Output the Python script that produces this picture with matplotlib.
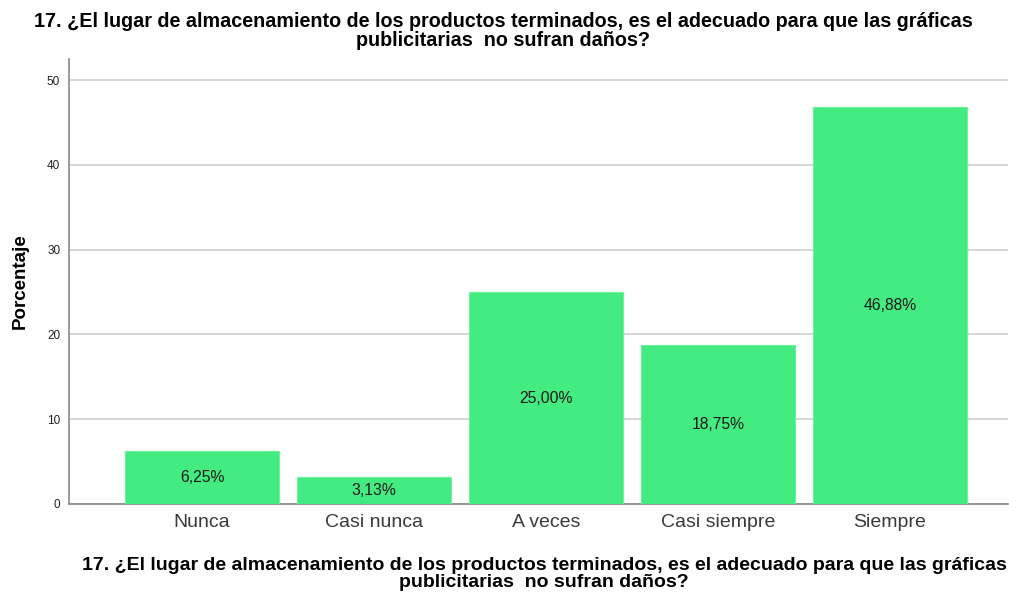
import matplotlib
matplotlib.use("Agg")
import matplotlib.pyplot as plt

plt.rcParams['font.family'] = ['Liberation Sans', 'DejaVu Sans']

categories = ["Nunca", "Casi nunca", "A veces", "Casi siempre", "Siempre"]
values = [6.25, 3.13, 25.00, 18.75, 46.88]
labels = ["6,25%", "3,13%", "25,00%", "18,75%", "46,88%"]
yticks = [0, 10, 20, 30, 40, 50]
title = "17. ¿El lugar de almacenamiento de los productos terminados, es el adecuado para que las gráficas\npublicitarias  no sufran daños?"

fig = plt.figure(figsize=(10.09, 5.92), dpi=100)
ax = fig.add_axes([68.5/1009, 1-504/592, (1008-68.5)/1009, (504-59)/592])

x = list(range(len(categories)))
ax.bar(x, values, width=0.895, color='#43EB80', edgecolor='#6CF29C', linewidth=0.8, zorder=3)
for xi, v, lab in zip(x, values, labels):
    ax.text(xi, v/2, lab, ha='center', va='center', fontsize=11.3, color='#1a1a1a', zorder=4)

ax.set_xlim(-0.776, 4.686)
ax.set_ylim(0, 52.5)
ax.set_yticks(yticks)
ax.set_yticklabels([str(t) for t in yticks], fontsize=8.5, color='#222222')
ax.set_xticks(x)
ax.set_xticklabels(categories, fontsize=14, color='#3a3a3a')
ax.tick_params(axis='x', length=0, pad=7)
ax.tick_params(axis='y', length=0, pad=6)
ax.yaxis.grid(True, color='#d0d0d0', linewidth=1.2, zorder=0)
for s in ['top', 'right']:
    ax.spines[s].set_visible(False)
ax.spines['left'].set_color('#888888')
ax.spines['bottom'].set_color('#888888')
ax.spines['left'].set_linewidth(1.2)
ax.spines['bottom'].set_linewidth(1.2)

fig.text(503/1009, 1-31/592, title, ha='center', va='center', fontsize=14.2, fontweight='bold', linespacing=0.95)
fig.text(544/1009, 1-574/592, title, ha='center', va='center', fontsize=14.0, fontweight='bold', linespacing=0.95)
fig.text(20/1009, 1-281/592, "Porcentaje", ha='center', va='center', rotation=90, fontsize=13.5, fontweight='bold')

fig.savefig("out.png", dpi=100)
